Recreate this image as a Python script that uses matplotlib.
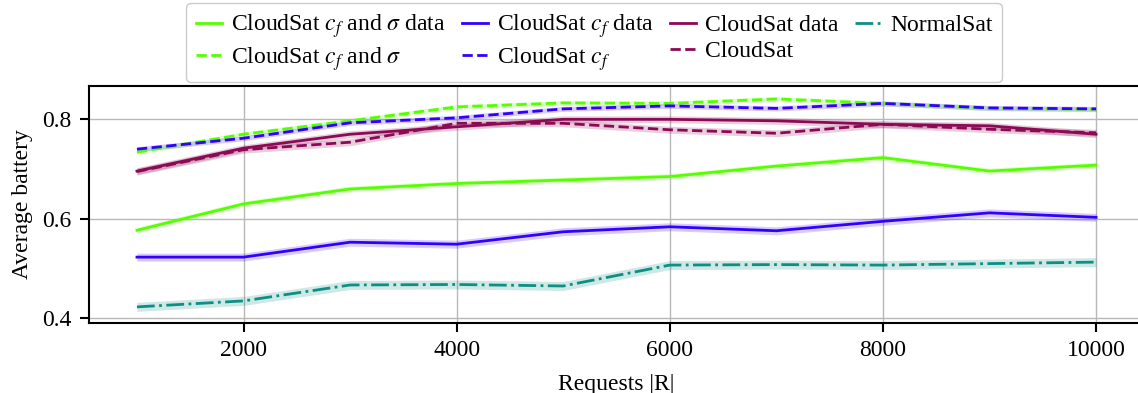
import numpy as np
import matplotlib
matplotlib.use("Agg")
import matplotlib.pyplot as plt

plt.rcParams['font.family'] = ['Liberation Serif', 'DejaVu Serif']
plt.rcParams['mathtext.fontset'] = 'stix'

#---------------------------------------------------------- data
requests = [1000, 2000, 3000, 4000, 5000, 6000, 7000, 8000, 9000, 10000]

cf_sigma_data = [0.577, 0.630, 0.660, 0.671, 0.678, 0.685, 0.706, 0.723, 0.696, 0.708]
cf_sigma      = [0.734, 0.770, 0.797, 0.825, 0.833, 0.832, 0.841, 0.832, 0.822, 0.820]
cf_data       = [0.523, 0.523, 0.553, 0.549, 0.574, 0.584, 0.576, 0.595, 0.612, 0.603]
cf            = [0.740, 0.762, 0.793, 0.803, 0.821, 0.827, 0.822, 0.832, 0.823, 0.821]
cloud_data    = [0.696, 0.742, 0.770, 0.785, 0.800, 0.800, 0.797, 0.790, 0.787, 0.770]
cloud         = [0.695, 0.739, 0.754, 0.792, 0.792, 0.779, 0.772, 0.790, 0.780, 0.773]
normal        = [0.423, 0.435, 0.467, 0.468, 0.465, 0.507, 0.508, 0.507, 0.510, 0.513]

# half width of the shaded confidence band of each series
band = [0.006, 0.005, 0.008, 0.005, 0.007, 0.007, 0.009]

labels = [r"CloudSat $c_f$ and $\sigma$ data", r"CloudSat $c_f$ and $\sigma$",
          r"CloudSat $c_f$ data", r"CloudSat $c_f$",
          "CloudSat data", "CloudSat", "NormalSat"]
series = [cf_sigma_data, cf_sigma, cf_data, cf, cloud_data, cloud, normal]
colors = ["#55ff00", "#55ff00", "#3300ff", "#3300ff", "#8c0a55", "#8c0a55", "#0d8f85"]
styles = ["-", "--", "-", "--", "-", "--", "-."]

#---------------------------------------------------------- plot
fig = plt.figure(figsize=(11.38, 3.93), dpi=100)
ax = fig.add_axes([89/1138, 70/393, 1055/1138, 237/393])

x = np.array(requests)
for y, hw, lab, col, ls in zip(series, band, labels, colors, styles):
    y = np.array(y)
    ax.fill_between(x, y - hw, y + hw, color=col, alpha=0.2, linewidth=0)
    ax.plot(x, y, ls, color=col, linewidth=2.0, label=lab)

ax.set_ylim(0.3906, 0.867)
ax.set_yticks([0.4, 0.6, 0.8])
ax.set_xticks([2000, 4000, 6000, 8000, 10000])
ax.grid(True, color="#b8b8b8", linewidth=1.0)
ax.set_axisbelow(True)
for s in ax.spines.values():
    s.set_linewidth(1.5)
ax.tick_params(labelsize=17, length=6.5, width=1.5, pad=6)
ax.set_xlabel("Requests |R|", fontsize=17, labelpad=9)
ax.set_ylabel("Average battery", fontsize=17, labelpad=7)

fig.legend(loc="upper center", bbox_to_anchor=(594/1138, 1 - 3/393), ncol=4,
           fontsize=17, labelspacing=0.2, columnspacing=0.67, handlelength=1.1,
           handletextpad=0.4, borderpad=0.4, borderaxespad=0,
           framealpha=1, edgecolor="#cccccc")

plt.savefig("out.png", dpi=100)
